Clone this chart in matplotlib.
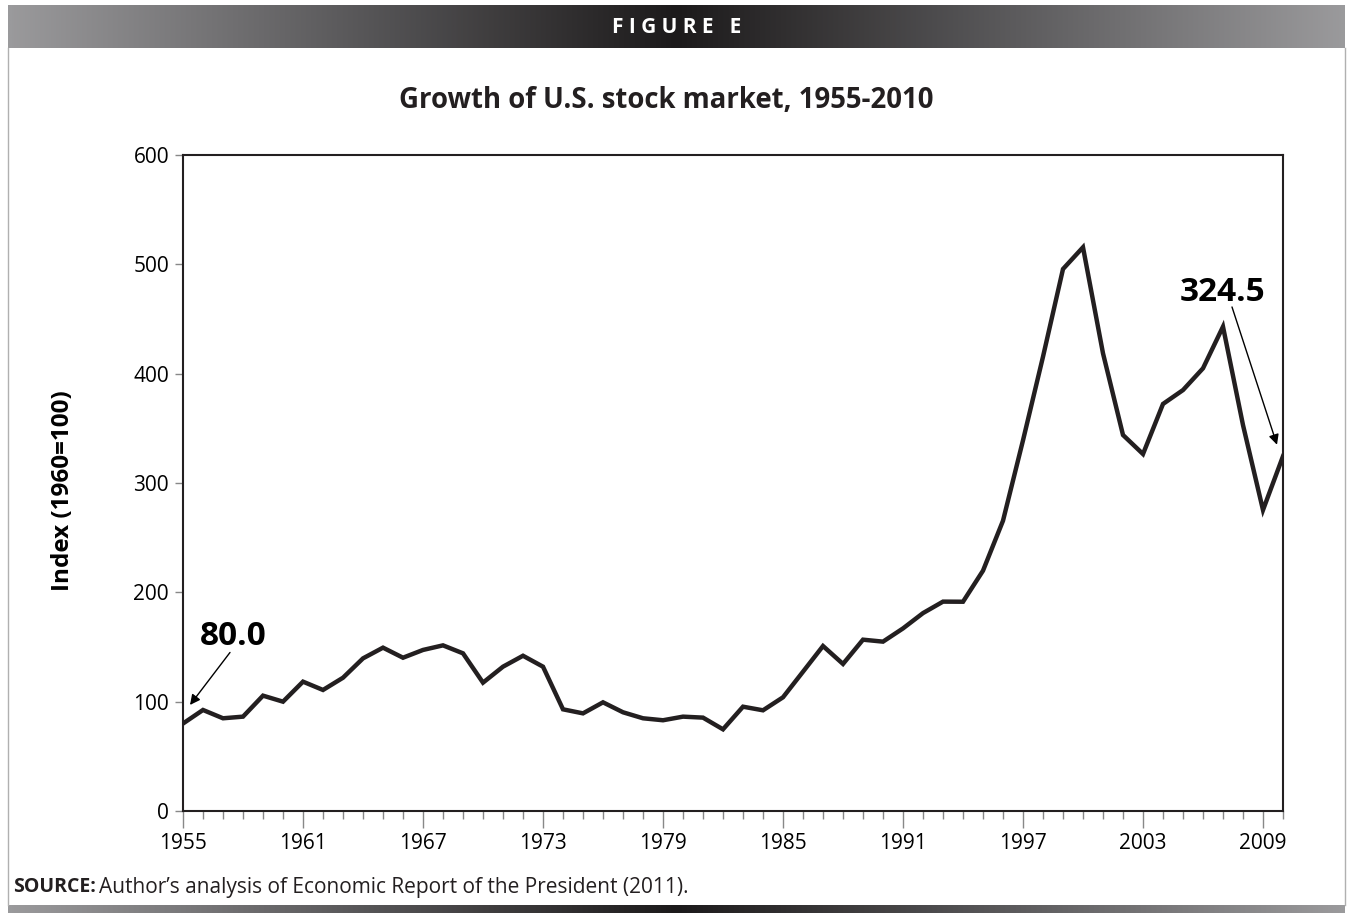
import matplotlib
matplotlib.use('Agg')
import matplotlib.pyplot as plt
import matplotlib.ticker as ticker
from matplotlib.colors import LinearSegmentedColormap
import numpy as np

years = list(range(1955, 2011))
index = [80.0, 92.4, 84.8, 86.3, 105.5, 100.0, 118.3, 110.7, 121.9, 139.6,
         149.4, 140.2, 147.3, 151.5, 144.2, 117.4, 132.0, 142.0, 132.0, 93.0,
         89.3, 99.4, 90.3, 84.8, 83.0, 86.3, 85.4, 74.7, 95.4, 92.1,
         104.0, 127.4, 150.9, 134.5, 156.7, 154.9, 167.0, 181.0, 191.5, 191.4,
         219.8, 265.5, 339.0, 415.5, 495.7, 515.6, 418.6, 343.9, 326.5, 372.3,
         385.0, 404.9, 443.0, 353.0, 275.3, 324.5]
major_years = [1955, 1961, 1967, 1973, 1979, 1985, 1991, 1997, 2003, 2009]
y_ticks = [0, 100, 200, 300, 400, 500, 600]

plt.rcParams['font.family'] = ['Open Sans', 'DejaVu Sans']

W, H = 1353, 913
fig = plt.figure(figsize=(W / 100, H / 100), dpi=100)

# grey gradient bars (top header and bottom rule)
cmap = LinearSegmentedColormap.from_list('bar', ['#9a9a9c', '#1c1a1b', '#9a9a9c'])
grad = np.linspace(0, 1, 512).reshape(1, -1)
top = fig.add_axes([8 / W, 1 - 48 / H, (1345 - 8) / W, 43 / H])
top.imshow(grad, cmap=cmap, aspect='auto')
top.axis('off')
top.text(0.5, 0.47, 'F I G U R E   E', color='white', fontsize=15, fontweight='bold',
         ha='center', va='center', transform=top.transAxes)
bot = fig.add_axes([8 / W, 0, (1345 - 8) / W, 8 / H])
bot.imshow(grad, cmap=cmap, aspect='auto')
bot.axis('off')

# thin side borders
fig.add_artist(plt.Line2D([8 / W, 8 / W], [8 / H, 1 - 48 / H], color='#b0b0b0', lw=1))
fig.add_artist(plt.Line2D([1345 / W, 1345 / W], [8 / H, 1 - 48 / H], color='#b0b0b0', lw=1))

ax = fig.add_axes([183 / W, 1 - 811 / H, 1100 / W, 656 / H])
ax.plot(years, index, color='#231f20', lw=3.2, solid_joinstyle='miter')
ax.set_xlim(1955, 2010)
ax.set_ylim(0, 600)
ax.set_xticks(major_years)
ax.xaxis.set_minor_locator(ticker.MultipleLocator(1))
ax.set_yticks(y_ticks)
ax.tick_params(axis='x', which='major', length=12, width=1, color='#888888',
               labelsize=15, pad=4)
ax.tick_params(axis='x', which='minor', length=6, width=1, color='#888888')
ax.tick_params(axis='y', which='major', length=6, width=1, color='#888888',
               labelsize=15, pad=4)
for s in ax.spines.values():
    s.set_color('#231f20')
    s.set_linewidth(1.5)
ax.set_ylabel('Index (1960=100)', fontsize=17.5, fontweight='bold')
ax.yaxis.set_label_coords(-0.098, 0.489)

# value callouts
ax.text(1955.85, 160, '80.0', fontsize=24, fontweight='bold', ha='left', va='center')
ax.annotate('', xy=(1955.35, 97), xytext=(1957.35, 145),
            arrowprops=dict(arrowstyle='-|>', color='black', lw=1, mutation_scale=15,
                            shrinkA=0, shrinkB=0))
ax.text(2007.0, 474, '324.5', fontsize=24, fontweight='bold', ha='center', va='center')
ax.annotate('', xy=(2009.7, 335), xytext=(2007.45, 461),
            arrowprops=dict(arrowstyle='-|>', color='black', lw=1, mutation_scale=15,
                            shrinkA=0, shrinkB=0))

fig.text(666 / W, 1 - 100 / H, 'Growth of U.S. stock market, 1955-2010',
         fontsize=19.8, fontweight='bold', ha='center', va='center', color='#231f20')
fig.text(13 / W, 1 - 887 / H, 'SOURCE:', fontsize=14, fontweight='bold',
         ha='left', va='center', color='#231f20')
fig.text(99 / W, 1 - 887 / H, "Author’s analysis of Economic Report of the President (2011).",
         fontsize=15, ha='left', va='center', color='#231f20')

fig.savefig('out.png', dpi=100)
